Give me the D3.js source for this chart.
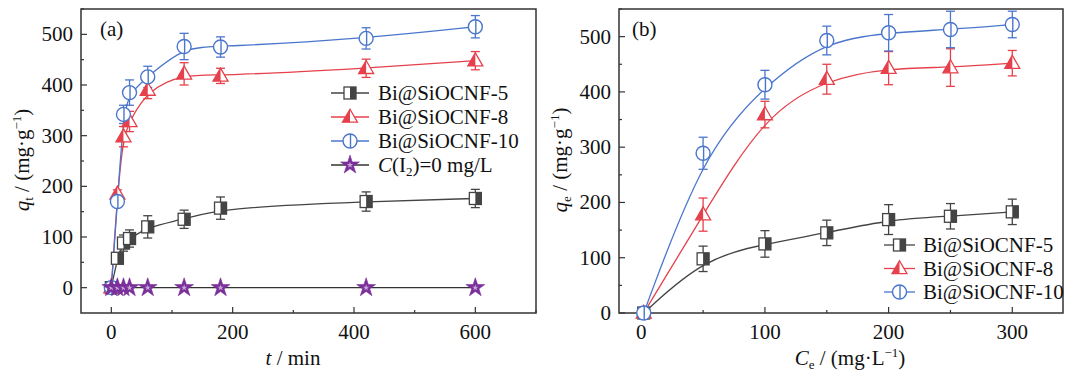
<!DOCTYPE html>
<html>
<head>
<meta charset="utf-8">
<script src="https://cdn.jsdelivr.net/npm/d3@7"></script>
<style>
  body { margin: 0; background: #fff; }
  svg text { font-family: "Liberation Serif", "Times New Roman", "DejaVu Serif", serif; }
</style>
</head>
<body>
<svg id="chart" width="1070" height="376"></svg>
<script>
// (a) kinetics: time in min
const tTime = [0, 10, 20, 30, 60, 120, 180, 420, 600];
const qt5 = [0, 58, 88, 97, 120, 135, 157, 170, 176];
const qt5Err = [0, 8, 16, 17, 22, 18, 22, 19, 18];
const qt8 = [0, 185, 298, 328, 390, 422, 418, 433, 448];
const qt8Err = [0, 8, 20, 20, 17, 22, 15, 18, 18];
const qt10 = [0, 170, 342, 385, 416, 476, 475, 492, 515];
const qt10Err = [0, 10, 18, 25, 21, 26, 20, 21, 22];
const qtBlank = [0, 0, 0, 0, 0, 0, 0, 0, 0];

// (b) isotherms: Ce in mg/L
const ceConc = [2, 50, 100, 150, 200, 250, 300];
const qe5 = [0, 98, 125, 145, 169, 175, 183];
const qe5Err = [0, 23, 24, 23, 27, 23, 23];
const qe8 = [0, 178, 359, 423, 443, 444, 452];
const qe8Err = [0, 30, 24, 27, 30, 34, 23];
const qe10 = [0, 289, 413, 493, 507, 513, 522];
const qe10Err = [0, 29, 26, 26, 33, 33, 24];

const seriesNames = ["Bi@SiOCNF-5", "Bi@SiOCNF-8", "Bi@SiOCNF-10"];

const GRAY = "#444", RED = "#e5404b", BLUE = "#4a76cc", PURPLE = "#7a2f9a";
const FONT = "'Liberation Serif', 'Times New Roman', 'DejaVu Serif', serif";

const svg = d3.select("#chart").attr("font-family", FONT);

function marker(g, kind, color, x, y) {
  const m = g.append("g").attr("transform", `translate(${x},${y})`);
  if (kind === "square") {
    const s = 12;
    m.append("rect").attr("x", -s / 2).attr("y", -s / 2).attr("width", s).attr("height", s)
      .attr("fill", "#fff").attr("stroke", color).attr("stroke-width", 1.3);
    m.append("rect").attr("x", 0).attr("y", -s / 2).attr("width", s / 2).attr("height", s)
      .attr("fill", color);
  } else if (kind === "triangle") {
    const h = 13, w = 15;
    m.append("path").attr("d", `M0,${-h * 0.6}L${w / 2},${h * 0.4}L${-w / 2},${h * 0.4}Z`)
      .attr("fill", "#fff").attr("stroke", color).attr("stroke-width", 1.3);
    m.append("path").attr("d", `M0,${-h * 0.6}L0,${h * 0.4}L${-w / 2},${h * 0.4}Z`)
      .attr("fill", color);
  } else if (kind === "circle") {
    m.append("circle").attr("r", 7).attr("fill", "#fff").attr("stroke", color).attr("stroke-width", 1.4);
    m.append("line").attr("x1", 0.5).attr("x2", 0.5).attr("y1", -7).attr("y2", 7)
      .attr("stroke", color).attr("stroke-width", 1.4);
  } else {
    m.append("path").attr("d", d3.symbol(d3.symbolStar, 110)())
      .attr("fill", color).attr("stroke", color).attr("stroke-width", 0.6);
    m.append("path").attr("d", d3.symbol(d3.symbolStar, 12)())
      .attr("fill", "#c9a6d9");
  }
}

function sText(g, x, y, anchor) {
  return g.append("text").attr("x", x).attr("y", y).attr("text-anchor", anchor)
    .attr("font-size", 21).attr("fill", "#111").attr("font-family", FONT);
}

function drawPanel(cfg) {
  const x = d3.scaleLinear().domain(cfg.xDomain).range([cfg.left, cfg.right]);
  const y = d3.scaleLinear().domain(cfg.yDomain).range([cfg.bottom, cfg.top]);
  const g = svg.append("g");

  // ticks (inward) on left and bottom
  const ax = g.append("g").attr("stroke", "#333").attr("stroke-width", 1.2);
  d3.range(0, cfg.xDomain[1] + 1e-9, cfg.xMinor).forEach(v => {
    const major = v % cfg.xMajor === 0;
    ax.append("line").attr("x1", x(v)).attr("x2", x(v))
      .attr("y1", cfg.bottom).attr("y2", cfg.bottom - (major ? 6 : 3));
    if (major) sText(g, x(v), cfg.bottom + 26, "middle").text(v);
  });
  d3.range(0, cfg.yDomain[1] + 1e-9, 50).forEach(v => {
    const major = v % 100 === 0;
    ax.append("line").attr("x1", cfg.left).attr("x2", cfg.left + (major ? 6 : 3))
      .attr("y1", y(v)).attr("y2", y(v));
    if (major) sText(g, cfg.left - 8, y(v) + 7, "end").text(v);
  });

  g.append("rect").attr("x", cfg.left).attr("y", cfg.top)
    .attr("width", cfg.right - cfg.left).attr("height", cfg.bottom - cfg.top)
    .attr("fill", "none").attr("stroke", "#333").attr("stroke-width", 1.5);

  // fitted curves
  const line = d3.line().x(d => x(d[0])).y(d => y(d[1]));
  cfg.series.forEach(s => {
    const pts = cfg.xs.map((v, i) => [v, s.values[i]]);
    g.append("path").datum(pts)
      .attr("d", line.curve(s.straight ? d3.curveLinear : d3.curveBasis))
      .attr("fill", "none").attr("stroke", s.lineColor || s.color).attr("stroke-width", 1.3);
  });

  // error bars
  cfg.series.forEach(s => {
    if (!s.err) return;
    cfg.xs.forEach((v, i) => {
      const e = s.err[i];
      if (!e) return;
      const px = x(v), y1 = y(s.values[i] - e), y2 = y(s.values[i] + e);
      const eb = g.append("g").attr("stroke", s.color).attr("stroke-width", 1.3);
      eb.append("line").attr("x1", px).attr("x2", px).attr("y1", y1).attr("y2", y2);
      eb.append("line").attr("x1", px - 4.5).attr("x2", px + 4.5).attr("y1", y1).attr("y2", y1);
      eb.append("line").attr("x1", px - 4.5).attr("x2", px + 4.5).attr("y1", y2).attr("y2", y2);
    });
  });

  // markers
  cfg.series.forEach(s => {
    cfg.xs.forEach((v, i) => marker(g, s.kind, s.color, x(v), y(s.values[i])));
  });

  // legend
  const L = cfg.legend;
  cfg.series.forEach((s, i) => {
    const ly = L.y + i * L.dy;
    g.append("line").attr("x1", L.x0).attr("x2", L.x1).attr("y1", ly).attr("y2", ly)
      .attr("stroke", s.lineColor || s.color).attr("stroke-width", 1.3);
    marker(g, s.kind, s.color, (L.x0 + L.x1) / 2, ly);
    const t = sText(g, L.tx, ly + 7, "start");
    if (s.label === "blank") {
      t.append("tspan").attr("font-style", "italic").text("C");
      t.append("tspan").text("(I");
      t.append("tspan").attr("font-size", 13).attr("dy", 4).text("2");
      t.append("tspan").attr("dy", -4).text(")=0 mg/L");
    } else {
      t.text(s.label);
    }
  });

  sText(g, cfg.tagX, 36, "start").text(cfg.tag);
  return { x, y, g };
}

drawPanel({
  left: 81, right: 536, top: 9, bottom: 313,
  xDomain: [-50, 700], yDomain: [-50, 550], xMinor: 100, xMajor: 200,
  xs: tTime, tag: "(a)", tagX: 100,
  legend: { x0: 331, x1: 369, tx: 378, y: 93, dy: 24 },
  series: [
    { label: seriesNames[0], values: qt5, err: qt5Err, color: GRAY, kind: "square" },
    { label: seriesNames[1], values: qt8, err: qt8Err, color: RED, kind: "triangle" },
    { label: seriesNames[2], values: qt10, err: qt10Err, color: BLUE, kind: "circle" },
    { label: "blank", values: qtBlank, color: PURPLE, lineColor: "#333", kind: "star", straight: true }
  ]
});

drawPanel({
  left: 619, right: 1063, top: 9, bottom: 313,
  xDomain: [-18, 341], yDomain: [0, 550], xMinor: 50, xMajor: 100,
  xs: ceConc, tag: "(b)", tagX: 632,
  legend: { x0: 884, x1: 915, tx: 923, y: 245, dy: 23.5 },
  series: [
    { label: seriesNames[0], values: qe5, err: qe5Err, color: GRAY, kind: "square" },
    { label: seriesNames[1], values: qe8, err: qe8Err, color: RED, kind: "triangle" },
    { label: seriesNames[2], values: qe10, err: qe10Err, color: BLUE, kind: "circle" }
  ]
});

// axis titles
function yTitle(cx, cy, sub) {
  const t = svg.append("text").attr("transform", `translate(${cx},${cy}) rotate(-90)`)
    .attr("text-anchor", "middle").attr("font-size", 21).attr("fill", "#111")
    .attr("font-family", FONT);
  t.append("tspan").attr("font-style", "italic").text("q");
  t.append("tspan").attr("font-size", 13).attr("dy", 4).text(sub);
  t.append("tspan").attr("dy", -4).text(" / (mg·g");
  t.append("tspan").attr("font-size", 13).attr("dy", -8).text("−1");
  t.append("tspan").attr("dy", 8).text(")");
}
yTitle(29, 160, "t");
yTitle(567, 160, "e");

const xt1 = sText(svg, 293, 365, "middle");
xt1.append("tspan").attr("font-style", "italic").text("t");
xt1.append("tspan").text(" / min");

const xt2 = sText(svg, 850, 365, "middle");
xt2.append("tspan").attr("font-style", "italic").text("C");
xt2.append("tspan").attr("font-size", 13).attr("dy", 4).text("e");
xt2.append("tspan").attr("dy", -4).text(" / (mg·L");
xt2.append("tspan").attr("font-size", 13).attr("dy", -8).text("−1");
xt2.append("tspan").attr("dy", 8).text(")");
</script>
</body>
</html>
